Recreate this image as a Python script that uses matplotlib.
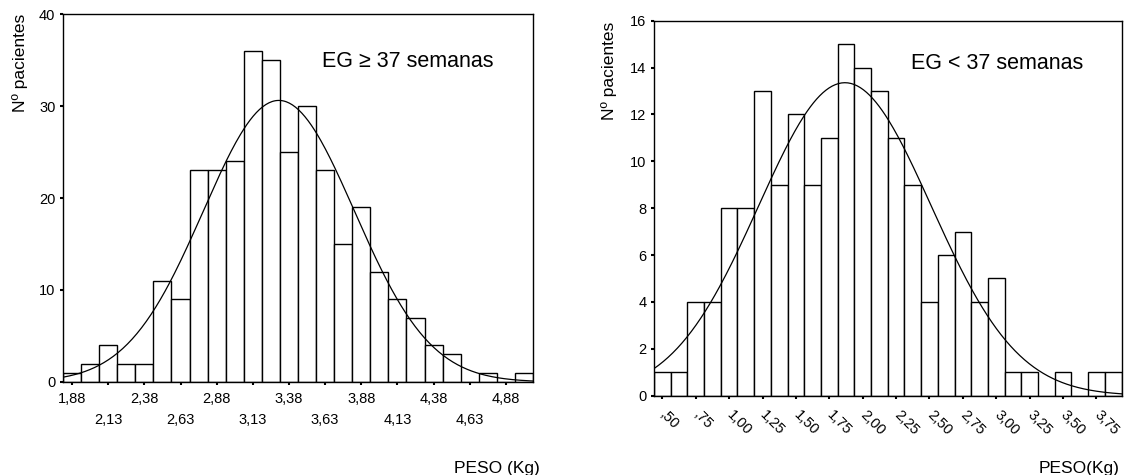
import matplotlib
matplotlib.use("Agg")
import matplotlib.pyplot as plt
import numpy as np

plt.rcParams['font.family'] = ['Liberation Sans', 'DejaVu Sans']

# EG >= 37 semanas
centros_a = 1.88 + 0.125 * np.arange(26)
conteos_a = [1, 2, 4, 2, 2, 11, 9, 23, 23, 24, 36, 35, 25, 30, 23, 15, 19,
             12, 9, 7, 4, 3, 0, 1, 0, 1]
media_a, sd_a = 3.31, 0.523
ticks_sup_a = [1.88, 2.38, 2.88, 3.38, 3.88, 4.38, 4.88]
ticks_inf_a = [2.13, 2.63, 3.13, 3.63, 4.13, 4.63]

# EG < 37 semanas
centros_b = 0.50 + 0.125 * np.arange(28)
conteos_b = [1, 1, 4, 4, 8, 8, 13, 9, 12, 9, 11, 15, 14, 13, 11, 9, 4, 6, 7,
             4, 5, 1, 1, 0, 1, 0, 1, 1]
media_b, sd_b = 1.867, 0.646
ticks_b = [0.50, 0.75, 1.00, 1.25, 1.50, 1.75, 2.00, 2.25, 2.50, 2.75,
           3.00, 3.25, 3.50, 3.75]

ancho = 0.125


def etiqueta(v):
    s = f"{v:.2f}".replace(".", ",")
    if s.startswith("0"):
        s = s[1:]
    return s


def histograma(ax, centros, conteos, media, sd):
    ax.bar(centros, conteos, width=ancho, color="white", edgecolor="black",
           linewidth=1.0)
    x0 = centros[0] - ancho / 2
    x1 = centros[-1] + ancho / 2
    xs = np.linspace(x0, x1, 300)
    n = sum(conteos)
    ys = n * ancho / (sd * np.sqrt(2 * np.pi)) * np.exp(-0.5 * ((xs - media) / sd) ** 2)
    ax.plot(xs, ys, color="black", linewidth=0.9)
    ax.set_xlim(x0, x1)
    for s in ax.spines.values():
        s.set_linewidth(1.0)
    ax.tick_params(axis="y", length=2.5, width=1.5, pad=3, labelsize=10.5)


fig = plt.figure(figsize=(11.25, 4.75), dpi=100)

ax1 = fig.add_axes([0.056, 0.1958, 0.4178, 0.7747])
histograma(ax1, centros_a, conteos_a, media_a, sd_a)
ax1.set_ylim(0, 40)
ax1.set_yticks([0, 10, 20, 30, 40])
ax1.set_xticks(ticks_sup_a)
ax1.set_xticklabels([etiqueta(v) for v in ticks_sup_a])
ax1.set_xticks(ticks_inf_a, minor=True)
ax1.set_xticklabels([etiqueta(v) for v in ticks_inf_a], minor=True)
ax1.tick_params(axis="x", which="major", length=2, width=1.5, pad=5, labelsize=10.5)
ax1.tick_params(axis="x", which="minor", length=2, width=1.5, pad=20, labelsize=10.5)
ax1.text(0.55, 0.87, "EG \u2265 37 semanas", transform=ax1.transAxes,
         fontsize=15.5, ha="left", va="center")

ax2 = fig.add_axes([0.5813, 0.167, 0.4156, 0.7894])
histograma(ax2, centros_b, conteos_b, media_b, sd_b)
ax2.set_ylim(0, 16)
ax2.set_yticks(range(0, 17, 2))
ax2.set_xticks(ticks_b)
ax2.set_xticklabels([etiqueta(v) for v in ticks_b], rotation=-45,
                    ha="left", va="center", rotation_mode="anchor")
ax2.tick_params(axis="x", length=2, width=1.5, pad=10, labelsize=10.5)
ax2.text(0.55, 0.885, "EG < 37 semanas", transform=ax2.transAxes,
         fontsize=15.5, ha="left", va="center")

fig.text(20 / 1125, 1 - 63 / 475, "N\u00ba pacientes", rotation=90,
         fontsize=12.5, ha="center", va="center")
fig.text(609 / 1125, 1 - 71 / 475, "N\u00ba pacientes", rotation=90,
         fontsize=12.5, ha="center", va="center")
fig.text(540 / 1125, 1 - 468 / 475, "PESO (Kg)", fontsize=12.5,
         ha="right", va="center")
fig.text(1120 / 1125, 1 - 468 / 475, "PESO(Kg)", fontsize=12.5,
         ha="right", va="center")

fig.savefig("out.png", dpi=100, facecolor="white")
